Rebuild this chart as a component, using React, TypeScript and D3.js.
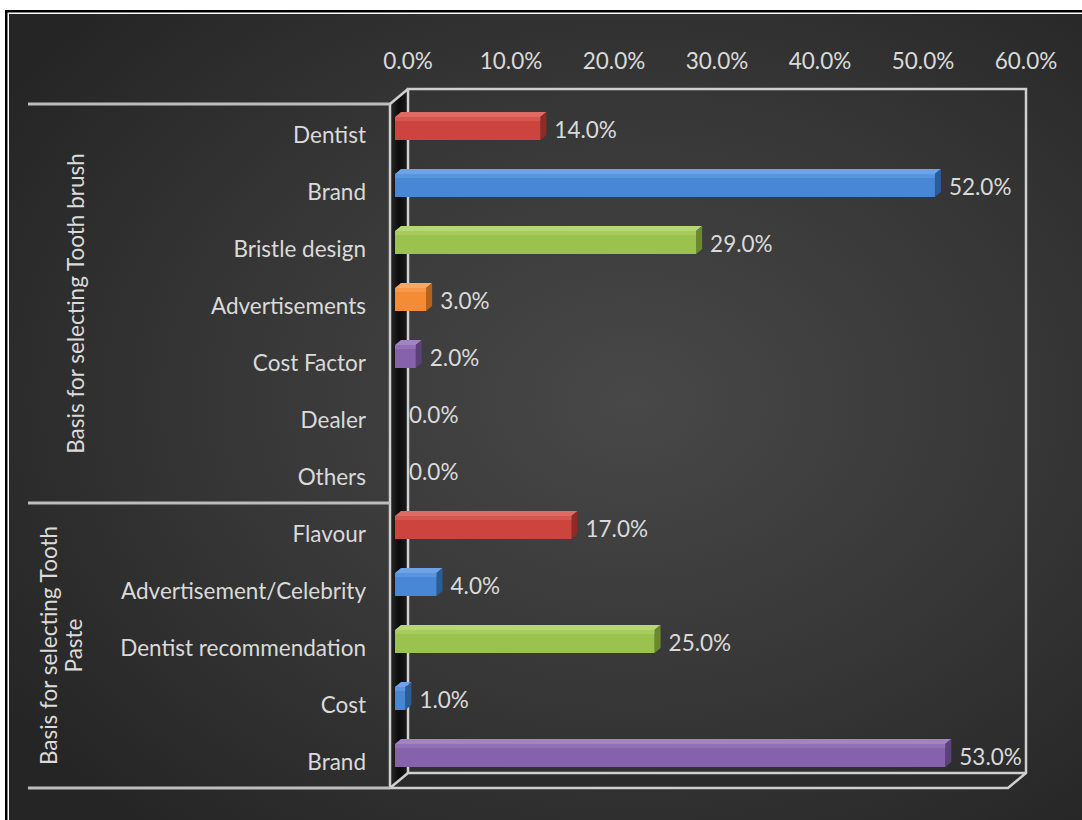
import React from "react";
import * as d3 from "d3";

const categories = [
  "Dentist", "Brand", "Bristle design", "Advertisements", "Cost Factor", "Dealer", "Others",
  "Flavour", "Advertisement/Celebrity", "Dentist recommendation", "Cost", "Brand",
];
const values = [14, 52, 29, 3, 2, 0, 0, 17, 4, 25, 1, 53];
const barColors = [
  "red", "blue", "green", "orange", "purple", "blue", "blue",
  "red", "blue", "green", "blue", "purple",
];
const groups = [
  { lines: ["Basis for selecting Tooth brush"], start: 0, end: 7 },
  { lines: ["Basis for selecting Tooth", "Paste"], start: 7, end: 12 },
];
const ticks = [0, 10, 20, 30, 40, 50, 60];

const palette: Record<string, { front: string; top: string; side: string }> = {
  red: { front: "#cd443f", top: "#e06a64", side: "#8f2a27" },
  blue: { front: "#4787d6", top: "#6ea4e6", side: "#2b5c9a" },
  green: { front: "#9cc24e", top: "#b7d676", side: "#6b8a30" },
  orange: { front: "#f58b34", top: "#f9a863", side: "#b5621c" },
  purple: { front: "#8562ab", top: "#a283c4", side: "#5b4178" },
};

const W = 1082;
const H = 820;
const FONT = "Lato, 'Open Sans', sans-serif";
const TXT = "#dadada";
const LINE = "#cfcfcf";
const FS = 22.5;

export default function App() {
  const frontX = 390;
  const frontTop = 104;
  const frontBottom = 788;
  const dx = 18;
  const dy = -15;
  const backX = frontX + dx;
  const backRight = 1026;
  const frontRight = backRight - dx;

  const xTick = d3.scaleLinear().domain([0, 60]).range([backX, backRight]);
  const xBar = d3.scaleLinear().domain([0, 60]).range([395, 1018]);
  const y = d3
    .scaleBand<number>()
    .domain(d3.range(categories.length))
    .range([frontTop, frontBottom])
    .padding(0);
  const bw = y.bandwidth();
  const bdx = 6;
  const bdy = -5;
  const faceH = 23;

  return (
    <svg
      width={W}
      height={H}
      style={{ position: "absolute", left: 0, top: 0, display: "block" }}
    >
      <defs>
        <radialGradient id="bg" cx="58%" cy="48%" r="70%">
          <stop offset="0%" stopColor="#484848" />
          <stop offset="55%" stopColor="#363636" />
          <stop offset="100%" stopColor="#252525" />
        </radialGradient>
        <linearGradient id="wall" x1="0" x2="1" y1="0" y2="0">
          <stop offset="0%" stopColor="#2a2a2a" />
          <stop offset="50%" stopColor="#0c0c0c" />
          <stop offset="100%" stopColor="#1c1c1c" />
        </linearGradient>
      </defs>
      <rect x={0} y={0} width={W} height={H} fill="#ffffff" />
      <rect x={5} y={10} width={W - 5} height={H - 10} fill="#000000" />
      <rect x={7.5} y={12.5} width={W - 7.5} height={H - 12.5} fill="#ffffff" />
      <rect x={9} y={14} width={W - 9} height={H - 14} fill="url(#bg)" />

      {/* tick labels */}
      {ticks.map((t) => (
        <text
          key={t}
          x={xTick(t)}
          y={60}
          textAnchor="middle"
          dominantBaseline="central"
          fontFamily={FONT}
          fontSize={FS}
          fill={TXT}
        >
          {t.toFixed(1) + "%"}
        </text>
      ))}

      {/* left wall */}
      <polygon
        points={`${frontX},${frontTop} ${backX},${frontTop + dy} ${backX},${frontBottom + dy} ${frontX},${frontBottom}`}
        fill="url(#wall)"
      />

      {/* back wall outline */}
      <polyline
        points={`${backX},${frontBottom + dy} ${backX},${frontTop + dy} ${backRight},${frontTop + dy} ${backRight},${frontBottom + dy}`}
        fill="none"
        stroke={LINE}
        strokeWidth={2.5}
      />
      {/* floor */}
      <polygon
        points={`${frontX},${frontBottom} ${frontRight},${frontBottom} ${backRight},${frontBottom + dy} ${backX},${frontBottom + dy}`}
        fill="#2b2b2b"
        stroke={LINE}
        strokeWidth={2.5}
        strokeLinejoin="round"
      />

      {/* bars */}
      {values.map((v, i) => {
        if (v <= 0) return null;
        const c = palette[barColors[i]];
        const x0 = xBar(0);
        const x1 = xBar(v);
        const yc = (y(i) as number) + bw / 2 - 4;
        const yt = yc - faceH / 2;
        const yb = yc + faceH / 2;
        return (
          <g key={i}>
            <polygon
              points={`${x0},${yt} ${x1},${yt} ${x1 + bdx},${yt + bdy} ${x0 + bdx},${yt + bdy}`}
              fill={c.top}
            />
            <polygon
              points={`${x1},${yt} ${x1 + bdx},${yt + bdy} ${x1 + bdx},${yb + bdy} ${x1},${yb}`}
              fill={c.side}
            />
            <rect x={x0} y={yt} width={x1 - x0} height={yb - yt} fill={c.front} />
            <rect x={x0} y={yt} width={x1 - x0} height={4} fill={c.top} opacity={0.45} />
          </g>
        );
      })}

      {/* front-left edge */}
      <line x1={frontX} y1={frontTop} x2={frontX} y2={frontBottom} stroke={LINE} strokeWidth={2.5} />
      <line x1={frontX} y1={frontTop} x2={backX} y2={frontTop + dy} stroke={LINE} strokeWidth={2.5} />

      {/* value labels */}
      {values.map((v, i) => {
        const yc = (y(i) as number) + bw / 2 - 3;
        const x = v > 0 ? xBar(v) + bdx + 8 : xBar(0) + 14;
        return (
          <text
            key={i}
            x={x}
            y={yc}
            dominantBaseline="central"
            fontFamily={FONT}
            fontSize={FS}
            fill={TXT}
          >
            {v.toFixed(1) + "%"}
          </text>
        );
      })}

      {/* category labels */}
      {categories.map((cat, i) => (
        <text
          key={i}
          x={366}
          y={(y(i) as number) + bw / 2 + 2}
          textAnchor="end"
          dominantBaseline="central"
          fontFamily={FONT}
          fontSize={FS}
          fill={TXT}
        >
          {cat}
        </text>
      ))}

      {/* group separators */}
      {[frontTop, y(groups[1].start) as number, frontBottom].map((yy, i) => (
        <line key={i} x1={28} x2={frontX} y1={yy} y2={yy} stroke="#bdbdbd" strokeWidth={3} />
      ))}

      {/* group labels */}
      {groups.map((g, gi) => {
        const y0 = y(g.start) as number;
        const y1 = g.end >= categories.length ? frontBottom : (y(g.end) as number);
        const cy = (y0 + y1) / 2;
        const lineGap = 25;
        const cx = gi === 0 ? 75 : 61;
        return (
          <text
            key={gi}
            transform={`translate(${cx},${cy}) rotate(-90)`}
            textAnchor="middle"
            fontFamily={FONT}
            fontSize={FS}
            fill={TXT}
          >
            {g.lines.map((l, li) => (
              <tspan
                key={li}
                x={0}
                y={(li - (g.lines.length - 1) / 2) * lineGap}
                dominantBaseline="central"
              >
                {l}
              </tspan>
            ))}
          </text>
        );
      })}
    </svg>
  );
}
